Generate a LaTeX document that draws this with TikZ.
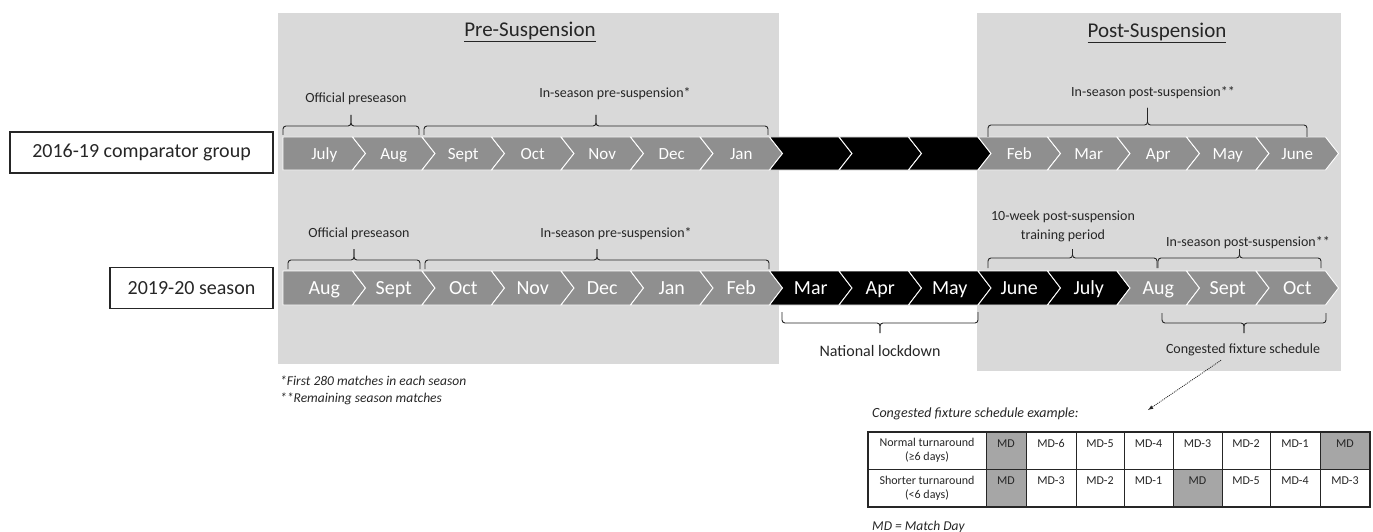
\documentclass[tikz,border=0pt]{standalone}
\usepackage{fontspec}
\setmainfont{Carlito}
\usepackage{tikz}
\usetikzlibrary{calc,arrows}
\definecolor{panelgray}{HTML}{D9D9D9}
\definecolor{chevgray}{HTML}{8F8F8F}
\definecolor{cellgray}{HTML}{A6A6A6}
\definecolor{inkgray}{HTML}{262626}
\tikzset{
  heading/.style={font=\fontsize{21}{23}\selectfont,text=inkgray,inner sep=0pt},
  seasonbox/.style={draw=inkgray,line width=1.3pt,minimum height=41pt,font=\fontsize{20}{22}\selectfont,text=inkgray},
  chev/.style={draw=white,line width=0.9pt},
  monthlbl/.style={anchor=base,text=white,inner sep=0pt},
  periodlbl/.style={font=\fontsize{14}{19}\selectfont,text=inkgray,align=center,inner sep=0pt},
  brk/.style={draw=inkgray,line width=0.9pt,rounded corners=3pt},
  note/.style={font=\fontsize{13.5}{15}\selectfont\itshape,text=inkgray,inner sep=0pt,anchor=west},
  celltxt/.style={font=\fontsize{12}{14}\selectfont,text=inkgray,inner sep=0pt,align=center}
}
\newcommand{\monthbrace}[5]{%
  \draw[brk] (#1,#4) -- (#1,#3) -- ({(#1+#2)/2},#3) -- ({(#1+#2)/2},#5);
  \draw[brk] (#2,#4) -- (#2,#3) -- ({(#1+#2)/2},#3) -- ({(#1+#2)/2},#5);}

\begin{document}
\begin{tikzpicture}[x=1pt,y=-1pt]
    \useasboundingbox (0,0) rectangle (1373,532);
    \fill[panelgray] (278,13) rectangle (779,364);
    \fill[panelgray] (977,13) rectangle (1341,371);
    \node[heading] (prehead) at (530,32) {\underline{Pre-Suspension}};
    \node[heading] (posthead) at (1157,33) {\underline{Post-Suspension}};
    \node[seasonbox,minimum width=263pt] (cmpbox) at (141.5,152.5) {2016-19 comparator group};
    \node[seasonbox,minimum width=163pt] (seabox) at (191.5,288) {2019-20 season};

    \foreach \m/\fc [count=\k from 0] in {July/chevgray,Aug/chevgray,Sept/chevgray,Oct/chevgray,Nov/chevgray,Dec/chevgray,Jan/chevgray,/black,/black,/black,Feb/chevgray,Mar/chevgray,Apr/chevgray,May/chevgray,June/chevgray}{
        \pgfmathsetmacro\xa{283+69.5*\k}
        \pgfmathsetmacro\nd{\k>0 ? 13 : 0}
        \draw[chev,fill=\fc] (\xa,137) -- (\xa+69.5,137) -- (\xa+82.5,153.5) -- (\xa+69.5,170) -- (\xa,170) -- (\xa+\nd,153.5) -- cycle;
        \node[monthlbl,font=\fontsize{17}{17}\selectfont] (ra\k) at (\xa+41.25,159) {\m};
    }
    \foreach \m/\fc [count=\k from 0] in {Aug/chevgray,Sept/chevgray,Oct/chevgray,Nov/chevgray,Dec/chevgray,Jan/chevgray,Feb/chevgray,Mar/black,Apr/black,May/black,June/black,July/black,Aug/chevgray,Sept/chevgray,Oct/chevgray}{
        \pgfmathsetmacro\xa{283+69.5*\k}
        \pgfmathsetmacro\nd{\k>0 ? 13 : 0}
        \draw[chev,fill=\fc] (\xa,271) -- (\xa+69.5,271) -- (\xa+82.5,288) -- (\xa+69.5,305) -- (\xa,305) -- (\xa+\nd,288) -- cycle;
        \node[monthlbl,font=\fontsize{20}{20}\selectfont] (rb\k) at (\xa+41.25,294.5) {\m};
    }

    \monthbrace{283}{419}{126}{135}{115}
    \monthbrace{424}{768}{126}{135}{115}
    \monthbrace{988}{1307}{125}{137}{108}
    \monthbrace{288}{420}{260}{269}{249}
    \monthbrace{425}{769}{260}{269}{249}
    \monthbrace{988}{1157}{258}{268}{249}
    \monthbrace{1158}{1321}{258}{268}{249}
    \monthbrace{782}{978}{323}{312}{333}
    \monthbrace{1162}{1326}{323}{313}{333}

    \node[periodlbl] (offa) at (356,99) {Official preseason};
    \node[periodlbl] (prea) at (615,94) {In-season pre-suspension*};
    \node[periodlbl] (posta) at (1153,93) {In-season post-suspension**};
    \node[periodlbl] (offb) at (359,234) {Official preseason};
    \node[periodlbl] (preb) at (616,234) {In-season pre-suspension*};
    \node[periodlbl] (trainb) at (1063,226.5) {10-week post-suspension\\training period};
    \node[periodlbl] (postb) at (1248,243) {In-season post-suspension**};
    \node[periodlbl,font=\fontsize{16}{18}\selectfont] (lockdown) at (880,351) {National lockdown};
    \node[periodlbl] (congest) at (1243,350) {Congested fixture schedule};

    \node[note] (fnone) at (280,381) {*First 280 matches in each season};
    \node[note] (fntwo) at (280,399) {**Remaining season matches};

    \node[note,font=\fontsize{14}{16}\selectfont\itshape] (extitle) at (872,414) {Congested fixture schedule example:};
    \coordinate (exend) at (1148,410);
    \draw[inkgray,line width=0.8pt,dash pattern=on 1pt off 1pt,-latex] ([xshift=-22pt,yshift=-4pt]congest.south) -- (exend);

    \draw[line width=0.7pt,draw=inkgray] (868,432) rectangle (986,469) (868,469) rectangle (986,507);
    \node[celltxt] (normlbl) at (927,450.5) {Normal turnaround\\(≥6 days)};
    \node[celltxt] (shortlbl) at (927,488) {Shorter turnaround\\(<6 days)};
    \foreach \xl/\xr/\ta/\fa/\tb/\fb [count=\c] in {986/1026/MD/cellgray/MD/cellgray,1026/1076/MD-6/white/MD-3/white,1076/1124/MD-5/white/MD-2/white,1124/1173/MD-4/white/MD-1/white,1173/1222/MD-3/white/MD/cellgray,1222/1270/MD-2/white/MD-5/white,1270/1320/MD-1/white/MD-4/white,1320/1370/MD/cellgray/MD-3/white}{
        \draw[fill=\fa,line width=0.7pt,draw=inkgray] (\xl,432) rectangle (\xr,469);
        \draw[fill=\fb,line width=0.7pt,draw=inkgray] (\xl,469) rectangle (\xr,507);
        \node[celltxt,anchor=base] (ca\c) at ({(\xl+\xr)/2},447) {\ta};
        \node[celltxt,anchor=base] (cb\c) at ({(\xl+\xr)/2},484) {\tb};
    }
    \draw[line width=1.6pt,draw=inkgray] (868,432) rectangle (1370,507);
    \node[note,font=\fontsize{13.5}{15}\selectfont\itshape] (mdkey) at (872,527) {MD = Match Day};
\end{tikzpicture}
\end{document}
